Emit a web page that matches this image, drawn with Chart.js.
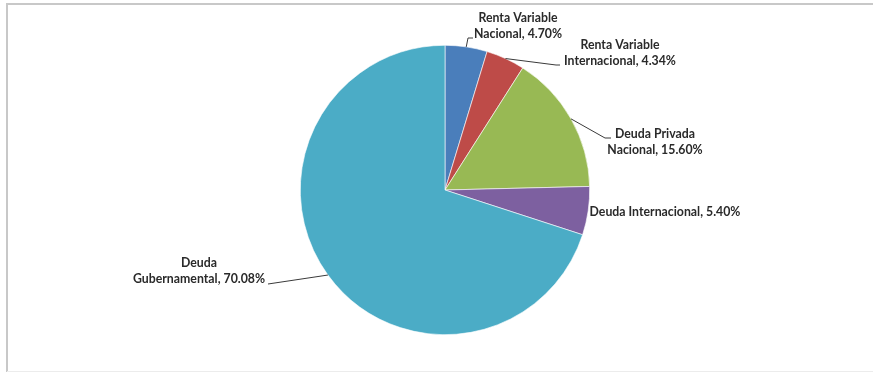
<!DOCTYPE html>
<html>
<head>
<meta charset="utf-8">
<script src="https://cdn.jsdelivr.net/npm/chart.js@4.4.0/dist/chart.umd.min.js"></script>
<style>
  html, body { margin: 0; padding: 0; background: #fff; }
  #wrap { position: relative; width: 873px; height: 372px; }
  canvas { display: block; }
</style>
</head>
<body>
<div id="wrap"><canvas id="portfolioPie" width="873" height="372"></canvas></div>
<script>
const categories = [
  'Renta Variable Nacional',
  'Renta Variable Internacional',
  'Deuda Privada Nacional',
  'Deuda Internacional',
  'Deuda Gubernamental'
];
const shares = [4.70, 4.34, 15.60, 5.40, 70.08];
const sliceColors = ['#4a7ebb', '#be4b48', '#98b954', '#7d60a0', '#4bacc6'];

// text lines for each slice label
const labelLines = [
  ['Renta Variable', 'Nacional, 4.70%'],
  ['Renta Variable', 'Internacional, 4.34%'],
  ['Deuda Privada', 'Nacional, 15.60%'],
  ['Deuda Internacional, 5.40%'],
  ['Deuda', 'Gubernamental, 70.08%']
];

// where each label block sits (centre x, first baseline) and where its leader line ends
const labelPlacement = [
  { x: 518, y: 22, elbow: [468, 38], end: [473, 38] },
  { x: 620, y: 49, elbow: [556, 65], end: [560, 65] },
  { x: 655, y: 138, elbow: [605, 138], end: [611, 138] },
  { x: 665, y: 216 },
  { x: 199, y: 267, elbow: [268, 284], end: [268, 284] }
];

const frame = {
  id: 'frame',
  beforeDraw(chart) {
    const ctx = chart.ctx;
    ctx.save();
    ctx.strokeStyle = '#c8c8c8';
    ctx.lineWidth = 2;
    ctx.beginPath();
    ctx.moveTo(873, 4);
    ctx.lineTo(7, 4);
    ctx.lineTo(7, 372);
    ctx.stroke();
    ctx.strokeStyle = '#ececec';
    ctx.lineWidth = 1;
    ctx.beginPath();
    ctx.moveTo(7, 371.5);
    ctx.lineTo(873, 371.5);
    ctx.stroke();
    ctx.restore();
  }
};

const sliceLabels = {
  id: 'sliceLabels',
  afterDraw(chart) {
    const ctx = chart.ctx;
    const arcs = chart.getDatasetMeta(0).data;
    ctx.save();
    ctx.font = 'bold 12.3px Lato, "Open Sans", sans-serif';
    ctx.fillStyle = '#2a2a2a';
    ctx.textAlign = 'center';
    ctx.textBaseline = 'alphabetic';
    arcs.forEach((arc, i) => {
      const p = labelPlacement[i];
      if (p.elbow) {
        const mid = (arc.startAngle + arc.endAngle) / 2;
        const sx = arc.x + Math.cos(mid) * arc.outerRadius;
        const sy = arc.y + Math.sin(mid) * arc.outerRadius;
        ctx.strokeStyle = '#3a3a3a';
        ctx.lineWidth = 1;
        ctx.beginPath();
        ctx.moveTo(sx, sy);
        ctx.lineTo(p.elbow[0], p.elbow[1]);
        ctx.lineTo(p.end[0], p.end[1]);
        ctx.stroke();
      }
      labelLines[i].forEach((line, k) => {
        ctx.fillText(line, p.x, p.y + k * 16);
      });
    });
    ctx.restore();
  }
};

new Chart(document.getElementById('portfolioPie'), {
  type: 'pie',
  data: {
    labels: categories,
    datasets: [{
      data: shares,
      backgroundColor: sliceColors,
      borderColor: '#ffffff',
      borderWidth: 0.6
    }]
  },
  options: {
    responsive: false,
    animation: false,
    layout: {
      padding: { top: 45, bottom: 37, left: 300, right: 283 }
    },
    plugins: {
      legend: { display: false },
      tooltip: { enabled: false }
    }
  },
  plugins: [frame, sliceLabels]
});
</script>
</body>
</html>
